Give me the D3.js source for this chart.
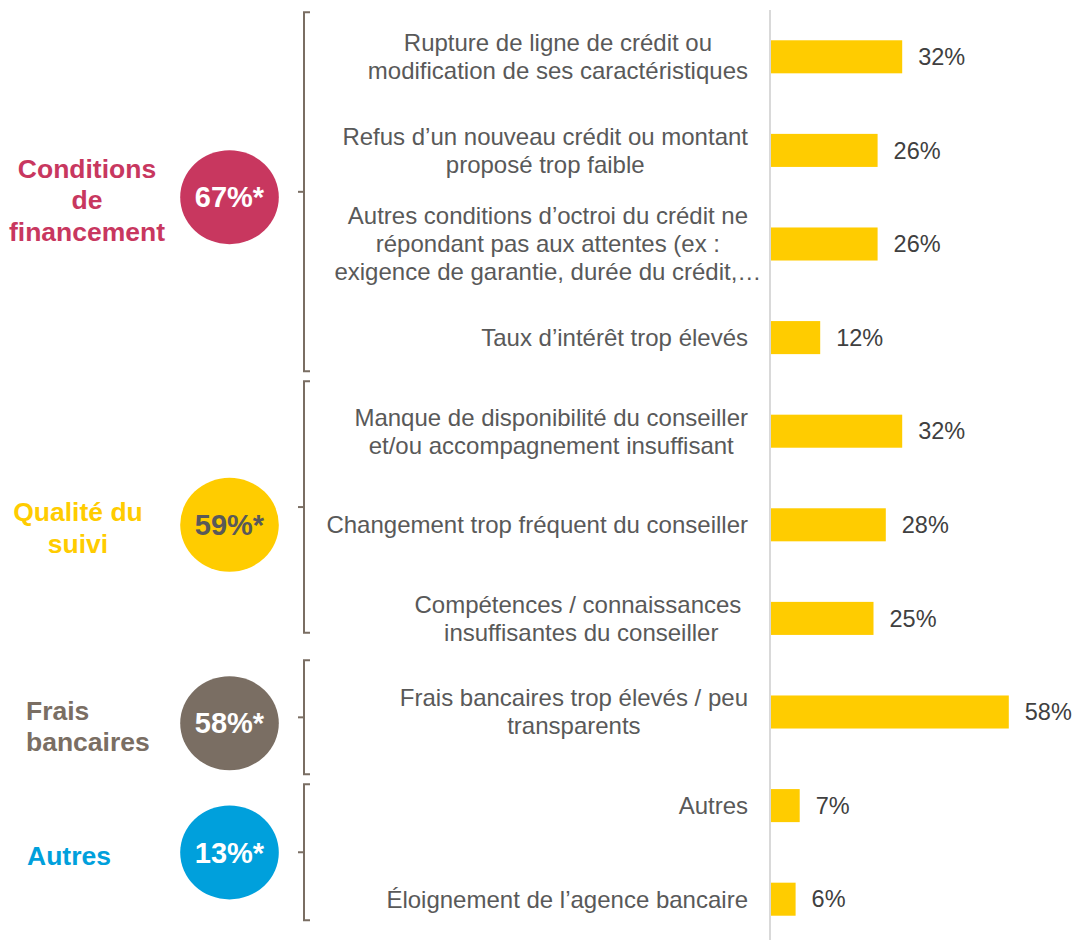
<!DOCTYPE html>
<html>
<head>
<meta charset="utf-8">
<script src="https://cdn.jsdelivr.net/npm/d3@7"></script>
<style>
  html, body { margin: 0; padding: 0; background: #ffffff; }
  svg { display: block; font-family: "Liberation Sans", Arial, sans-serif; }
</style>
</head>
<body>
<svg id="chart" width="1075" height="940"></svg>
<script>
// ---------- DATA ----------
const categories = [
  "Rupture de ligne de crédit ou\nmodification de ses caractéristiques",
  "Refus d’un nouveau crédit ou montant\nproposé trop faible",
  "Autres conditions d’octroi du crédit ne\nrépondant pas aux attentes (ex :\nexigence de garantie, durée du crédit,…",
  "Taux d’intérêt trop élevés",
  "Manque de disponibilité du conseiller\net/ou accompagnement insuffisant",
  "Changement trop fréquent du conseiller",
  "Compétences / connaissances\u00a0\ninsuffisantes du conseiller",
  "Frais bancaires trop élevés / peu\ntransparents",
  "Autres",
  "Éloignement de l’agence bancaire"
];
const values = [32, 26, 26, 12, 32, 28, 25, 58, 7, 6];

const groupNames  = ["Conditions\nde\nfinancement", "Qualité du\nsuivi", "Frais\nbancaires", "Autres"];
const groupTotals = ["67%*", "59%*", "58%*", "13%*"];
// bracket extent of each group, in category-index units
const groupSpans  = [[-0.475, 3.36], [3.467, 6.154], [6.448, 7.666], [7.772, 9.225]];
// circle centre of each group, in category-index units
const groupCentre = [1.5, 5.0, 7.12, 8.5];

// ---------- STYLE / LAYOUT ----------
const groupColors    = ["#c8375f", "#ffcc00", "#7a6e63", "#00a0dc"];
const groupTextFill  = ["#ffffff", "#595959", "#ffffff", "#ffffff"];
const groupLabelX    = [87, 78, 26, 27];
const groupLabelAnch = ["middle", "middle", "start", "start"];
const barColor = "#ffcc00";
const bracketColor = "#7a6e63";

const svg = d3.select("#chart");

const y = d3.scaleBand()
  .domain(d3.range(categories.length))
  .range([10, 946])
  .paddingInner(0.647)
  .paddingOuter(0.3235);

const x = d3.scaleLinear().domain([0, 100]).range([771, 1181]);

// index -> centre y
const yIdx = d3.scaleLinear()
  .domain([0, categories.length - 1])
  .range([y(0) + y.bandwidth() / 2, y(categories.length - 1) + y.bandwidth() / 2]);

// axis line
svg.append("line")
  .attr("x1", 770).attr("x2", 770)
  .attr("y1", 10).attr("y2", 940)
  .attr("stroke", "#d9d9d9").attr("stroke-width", 2);

// bars
svg.append("g").selectAll("rect")
  .data(values)
  .join("rect")
  .attr("x", x(0))
  .attr("y", (d, i) => y(i))
  .attr("width", d => x(d) - x(0))
  .attr("height", y.bandwidth())
  .attr("fill", barColor);

// value labels
svg.append("g").selectAll("text")
  .data(values)
  .join("text")
  .attr("x", d => x(d) + 16)
  .attr("y", (d, i) => y(i) + y.bandwidth() / 2)
  .attr("dy", "0.35em")
  .attr("font-size", "23.5px")
  .attr("fill", "#404040")
  .text(d => d + "%");

// category labels (centred lines, block right-aligned; truncated "…" lines overflow)
const catFont = 24, catLine = 28, labelRight = 748;
const catG = svg.append("g");
categories.forEach((c, i) => {
  const lines = c.split("\n");
  const t = catG.append("text")
    .attr("font-size", catFont + "px")
    .attr("fill", "#595959")
    .attr("text-anchor", "middle")
    .style("white-space", "pre");
  const cy = yIdx(i);
  const spans = lines.map((ln, j) =>
    t.append("tspan")
      .attr("y", cy + (j - (lines.length - 1) / 2) * catLine)
      .attr("dy", "0.35em")
      .text(ln));
  let w = 0;
  spans.forEach((s, j) => {
    if (!lines[j].endsWith("…")) w = Math.max(w, s.node().getComputedTextLength());
  });
  spans.forEach(s => s.attr("x", labelRight - w / 2));
});

// brackets
const brG = svg.append("g")
  .attr("fill", "none")
  .attr("stroke", bracketColor)
  .attr("stroke-width", 2);
groupSpans.forEach(([a, b]) => {
  const top = yIdx(a), bot = yIdx(b), mid = (top + bot) / 2;
  brG.append("path")
    .attr("d", `M310,${top}H304V${bot}H310`);
  brG.append("path")
    .attr("d", `M304,${mid}H298`);
});

// circles & group labels
groupNames.forEach((name, g) => {
  const cy = yIdx(groupCentre[g]);
  svg.append("ellipse")
    .attr("cx", 229.5).attr("cy", cy)
    .attr("rx", 49.3).attr("ry", 47)
    .attr("fill", groupColors[g]);
  svg.append("text")
    .attr("x", 229.5).attr("y", cy)
    .attr("dy", "0.35em")
    .attr("text-anchor", "middle")
    .attr("font-size", "29px")
    .attr("font-weight", "bold")
    .attr("fill", groupTextFill[g])
    .text(groupTotals[g]);

  const lines = name.split("\n");
  const t = svg.append("text")
    .attr("font-size", "26.5px")
    .attr("font-weight", "bold")
    .attr("fill", groupColors[g])
    .attr("text-anchor", groupLabelAnch[g]);
  lines.forEach((ln, j) => {
    t.append("tspan")
      .attr("x", groupLabelX[g])
      .attr("y", cy + 3 + (j - (lines.length - 1) / 2) * 31.5)
      .attr("dy", "0.35em")
      .text(ln);
  });
});
</script>
</body>
</html>
